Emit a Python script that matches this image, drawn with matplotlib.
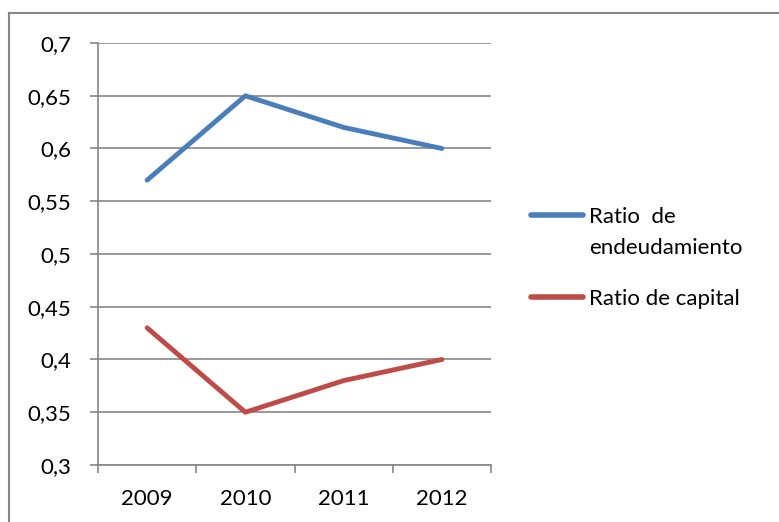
import matplotlib
matplotlib.use("Agg")
import matplotlib.pyplot as plt
from matplotlib.lines import Line2D

years = ["2009", "2010", "2011", "2012"]
ratio_endeudamiento = [0.57, 0.65, 0.62, 0.60]
ratio_capital = [0.43, 0.35, 0.38, 0.40]
y_ticks = [0.3, 0.35, 0.4, 0.45, 0.5, 0.55, 0.6, 0.65, 0.7]
y_labels = ["0,3", "0,35", "0,4", "0,45", "0,5", "0,55", "0,6", "0,65", "0,7"]
series_names = ["Ratio  de\nendeudamiento", "Ratio de capital"]
colors = ['#4A7EBB', '#BE4B48']

plt.rcParams['font.family'] = ['Lato', 'DejaVu Sans']
FS = 16
W, H = 779, 522
fig = plt.figure(figsize=(W/100, H/100), dpi=100)
# outer chart-area border (left and top edges visible)
fig.add_artist(Line2D([8.5/W, 8.5/W], [0, 1-13/H], transform=fig.transFigure,
                      color='#868686', linewidth=1.5))
fig.add_artist(Line2D([8.5/W, 1], [1-13/H, 1-13/H], transform=fig.transFigure,
                      color='#868686', linewidth=1.5))

ax = fig.add_axes([98/W, 1-465/H, (491-98)/W, (465-43)/H])
x = list(range(len(years)))
l1, = ax.plot(x, ratio_endeudamiento, color=colors[0], linewidth=3.5, solid_capstyle='round')
l2, = ax.plot(x, ratio_capital, color=colors[1], linewidth=3.5, solid_capstyle='round')
ax.set_xlim(-0.5, len(years)-0.5)
ax.set_ylim(0.3, 0.7)
ax.set_yticks(y_ticks)
ax.set_yticklabels(y_labels, fontsize=FS)
ax.set_xticks(x)
ax.set_xticklabels(years, fontsize=FS)
ax.set_xticks([i-0.5 for i in range(len(years)+1)], minor=True)
ax.tick_params(axis='x', which='major', length=0, pad=17)
ax.tick_params(axis='x', which='minor', length=6, color='#868686', width=1.2)
ax.tick_params(axis='y', length=6, color='#868686', width=1.2, pad=13)
ax.grid(axis='y', color='#868686', linewidth=1.2)
for s in ['top', 'right']:
    ax.spines[s].set_visible(False)
for s in ['left', 'bottom']:
    ax.spines[s].set_color('#868686')
    ax.spines[s].set_linewidth(1.2)
ax.set_axisbelow(True)

# legend
leg_y = [215, 297]
for name, c, yy in zip(series_names, colors, leg_y):
    fig.add_artist(Line2D([531/W, 583/W], [1-yy/H, 1-yy/H], transform=fig.transFigure,
                          color=c, linewidth=4, solid_capstyle='round'))
    fig.text(589/W, 1-(yy-8)/H, name, fontsize=FS, va='top', ha='left',
             linespacing=1.7)
fig.savefig("out.png", dpi=100)
